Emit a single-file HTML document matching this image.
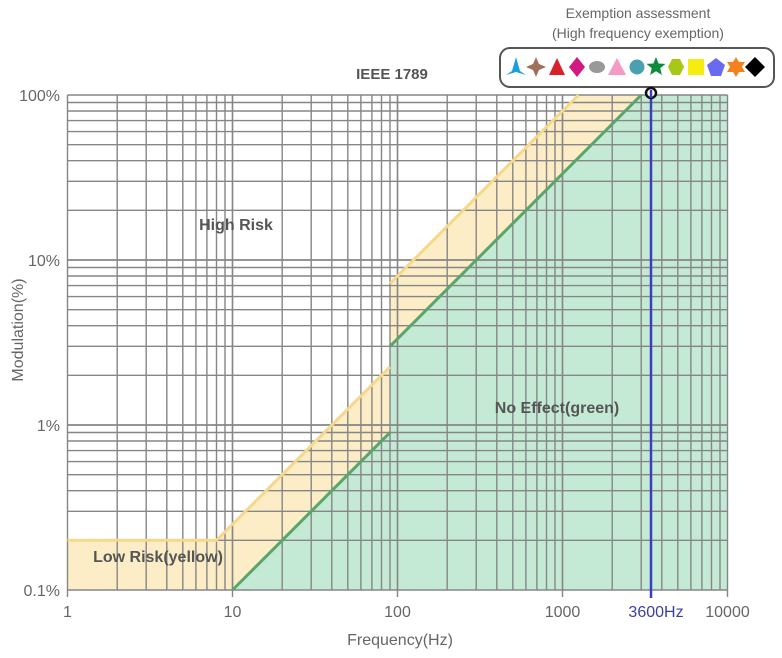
<!DOCTYPE html>
<html><head><meta charset="utf-8"><style>
html,body{margin:0;padding:0;background:#fff;}
svg{display:block;font-family:"Liberation Sans",sans-serif;}
</style></head><body>
<svg id="s" width="782" height="658" viewBox="0 0 782 658"></svg>
<script>
const X0=67.5,D=165,Y0=590;
const fx=f=>X0+Math.log10(f)*D;
const fy=m=>Y0-(Math.log10(m)+1)*D;
let h='';
const P=a=>a.map(p=>fx(p[0]).toFixed(1)+','+fy(p[1]).toFixed(1)).join(' ');
h+=`<polygon points="${P([[1,0.1],[1,0.2],[8,0.2],[90,2.25],[90,0.9],[10,0.1]])}" fill="#fdedc6"/>`;
h+=`<polygon points="${P([[90,3],[90,7.2],[1250,100],[3000,100]])}" fill="#fdedc6"/>`;
h+=`<polygon points="${P([[10,0.1],[90,0.9],[90,3],[3000,100],[10000,100],[10000,0.1]])}" fill="#c4ead6"/>`;
let g='';
for(let d=0;d<4;d++)for(let k=1;k<=10;k++){const x=fx(k*Math.pow(10,d));g+=`<line x1="${x.toFixed(1)}" y1="${fy(100)}" x2="${x.toFixed(1)}" y2="${Y0}"/>`;}
for(let d=0;d<3;d++)for(let k=1;k<=10;k++){const y=fy(0.1*k*Math.pow(10,d));g+=`<line x1="${X0}" y1="${y.toFixed(1)}" x2="${fx(10000)}" y2="${y.toFixed(1)}"/>`;}
h+=`<g stroke="#868686" stroke-width="1.4">${g}</g>`;
for(let d=0;d<=4;d++){const x=fx(Math.pow(10,d));h+=`<line x1="${x}" y1="${Y0}" x2="${x}" y2="${Y0+7}" stroke="#868686" stroke-width="1.4"/>`;}
h+=`<polyline points="${P([[1,0.2],[8,0.2],[90,2.25]])}" fill="none" stroke="#f5d88a" stroke-width="3"/>`;
h+=`<polyline points="${P([[90,7.2],[1250,100]])}" fill="none" stroke="#f5d88a" stroke-width="3"/>`;
h+=`<polyline points="${P([[10,0.1],[90,0.9]])}" fill="none" stroke="#5aa56a" stroke-width="3"/>`;
h+=`<polyline points="${P([[90,3],[3000,100]])}" fill="none" stroke="#5aa56a" stroke-width="3"/>`;
h+=`<line x1="651" y1="93" x2="651" y2="598" stroke="#3a3fc0" stroke-width="2.5"/>`;
const tl=(x,y,t,a,extra)=>`<text x="${x}" y="${y}" text-anchor="${a}" ${extra||''}>${t}</text>`;
let L='';
[['1',0],['10',1],['100',2],['1000',3],['10000',4]].forEach(([t,d])=>{L+=tl(fx(Math.pow(10,d)),617,t,'middle');});
[['100%',100],['10%',10],['1%',1],['0.1%',0.1]].forEach(([t,m])=>{L+=tl(60,fy(m)+6,t,'end');});
h+=`<g fill="#666" font-size="16">${L}</g>`;
h+=tl(656,617,'3600Hz','middle','fill="#3a3fa0" font-size="16"');
h+=tl(400,645,'Frequency(Hz)','middle','fill="#666" font-size="16"');
h+=`<text x="0" y="0" transform="translate(23,330) rotate(-90)" text-anchor="middle" fill="#666" font-size="16">Modulation(%)</text>`;
h+=`<g fill="#555" font-weight="bold" font-size="16">`+tl(392,79,'IEEE 1789','middle','font-size="15"')+tl(236,230,'High Risk','middle')+tl(158,562,'Low Risk(yellow)','middle')+tl(557,413,'No Effect(green)','middle')+`</g>`;
h+=tl(638,18,'Exemption assessment','middle','fill="#666" font-size="14"');
h+=tl(638,38,'(High frequency exemption)','middle','fill="#666" font-size="14"');
h+=`<rect x="500" y="48" width="274" height="39" rx="10" fill="#fff" stroke="#555" stroke-width="2"/>`;
h+=`<circle cx="651" cy="93" r="5" fill="#fff" stroke="#111" stroke-width="2.5"/><line x1="651" y1="90" x2="651" y2="98" stroke="#3a3fc0" stroke-width="2.5"/>`;
h+=`<path d="M516,57 L520,71 L526,75 L516,72 L506,75 L512,71 Z" fill="#1a9ee0"/>`;
h+=`<path d="M536,57 L539,64 L546,67 L539,70 L536,77 L533,70 L526,67 L533,64 Z" fill="#a0705a"/>`;
h+=`<polygon points="557,58 565,75 549,75" fill="#d8222a"/>`;
h+=`<polygon points="577,57 585,67 577,77 569,67" fill="#d01a80"/>`;
h+=`<ellipse cx="597" cy="67" rx="8" ry="6" fill="#999"/>`;
h+=`<polygon points="617,58 626,75 608,75" fill="#f59ac4"/>`;
h+=`<circle cx="637" cy="67" r="7.5" fill="#4aa0b0"/>`;
h+=`<polygon points="656,57 658.6,63.5 665.5,63.9 660.2,68.3 661.9,75 656,71.3 650.1,75 651.8,68.3 646.5,63.9 653.4,63.5" fill="#0d8a3a"/>`;
h+=`<polygon points="672,59 680,59 684,67 680,75 672,75 668,67" fill="#a8c818"/>`;
h+=`<rect x="688" y="59" width="16" height="16" fill="#f5ec10"/>`;
h+=`<polygon points="716,58 725,65 721,76 711,76 707,65" fill="#6a6af0"/>`;
h+=`<polygon points="736,57 739,62 745,62 742,67 745,72 739,72 736,77 733,72 727,72 730,67 727,62 733,62" fill="#f5801e"/>`;
h+=`<polygon points="755,57 765,67 755,77 745,67" fill="#000"/>`;
document.getElementById('s').innerHTML=h;
</script>
</body></html>
